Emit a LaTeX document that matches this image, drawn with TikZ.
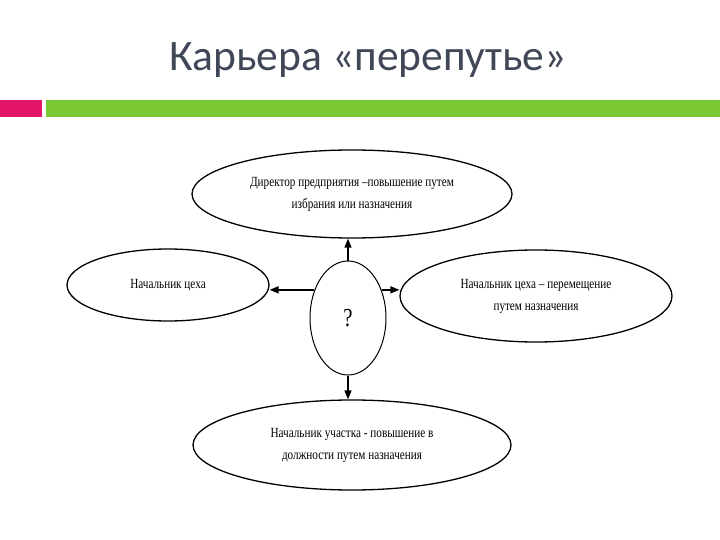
\documentclass[tikz,border=0pt]{standalone}
\usepackage{fontspec}
\setmainfont{Carlito}
\newfontfamily\diagfont[FakeStretch=0.8]{Liberation Serif}
\usetikzlibrary{shapes.geometric,arrows.meta}
\definecolor{titlegray}{RGB}{64,72,88}
\definecolor{barpink}{RGB}{228,22,108}
\definecolor{bargreen}{RGB}{122,200,52}
\begin{document}
\begin{tikzpicture}[
  x=1pt, y=-1pt,
  stage/.style={draw=black, ellipse, line width=1.3pt, inner sep=0pt, align=center,
    font=\diagfont\fontsize{14}{22}\selectfont},
  link/.style={line width=1.5pt, -{Triangle[length=9pt,width=7pt]}}
  ]
\useasboundingbox (0,0) rectangle (720,540);

% title and bar
\node[font=\fontsize{43.5}{48}\selectfont, text=titlegray] (title) at (368,60) {Карьера «перепутье»};
\fill[barpink] (0,100) rectangle (42,117);
\fill[bargreen] (46,100) rectangle (720,117);

% career paths
\node[stage, minimum width=320pt, minimum height=88pt] (top) at (352,194)
  {Директор предприятия –повышение путем\\избрания или назначения};
\node[stage, minimum width=202pt, minimum height=72pt] (lft) at (168,285)
  {Начальник цеха};
\node[stage, minimum width=272pt, minimum height=92pt] (rgt) at (536,296)
  {Начальник цеха – перемещение\\путем назначения};
\node[stage, minimum width=318pt, minimum height=90pt] (bot) at (352,445)
  {Начальник участка - повышение в\\должности путем назначения};
\node[stage, line width=1pt, minimum width=76pt, minimum height=114pt,
  font=\diagfont\fontsize{26}{28}\selectfont] (q) at (348,318) {?};

% arrows
\draw[link] (q.north) -- (q.north |- top.south);
\draw[link] (q.140) -- (q.140 -| lft.east);
\draw[link] (q.40) -- (q.40 -| rgt.west);
\draw[link] (q.south) -- (q.south |- bot.north);
\end{tikzpicture}
\end{document}
